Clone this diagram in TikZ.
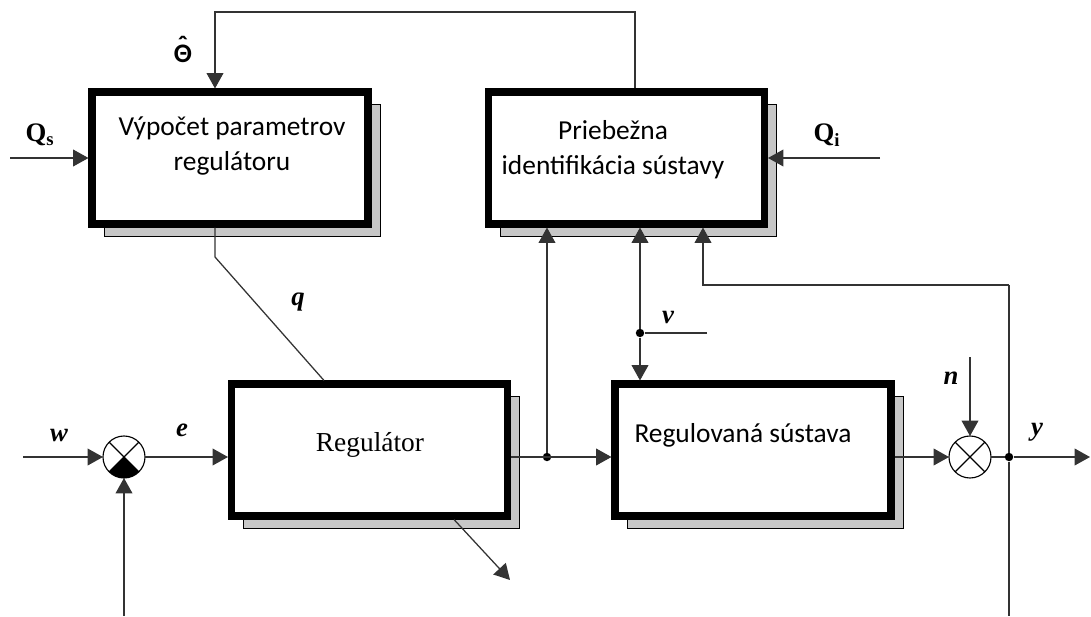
\documentclass[tikz,border=0pt]{standalone}
\usepackage{fontspec}
\setmainfont{Liberation Serif}
\newfontfamily\blokfont{Carlito}
\usetikzlibrary{arrows.meta,shadows}

\tikzset{
	blok/.style={draw, line width=5pt, fill=white, minimum width=6.9cm, minimum height=3.3cm,
		drop shadow={shadow xshift=0.31cm, shadow yshift=-0.31cm, opacity=1,
			fill=black!22, draw=black, line width=0.8pt}},
	bloktext/.style={font=\blokfont\fontsize{19.5}{25}\selectfont, align=center},
	signal/.style={draw=black!80, line width=0.9pt},
	sig/.style={signal, -{Triangle[length=11pt,width=12pt]}},
	sucet/.style={draw, circle, line width=0.8pt, minimum size=1.05cm, inner sep=0pt, outer sep=0pt},
	bod/.style={circle, fill, inner sep=0pt, minimum size=6pt},
	oznacenie/.style={font=\fontsize{19}{22}\selectfont\bfseries\itshape},
	velicina/.style={font=\fontsize{19}{22}\selectfont\bfseries},
}

\begin{document}
\begin{tikzpicture}

	\useasboundingbox (0,0) rectangle (27.275,15.4);

	% bloky
	\node[blok] (vypocet) at (5.75,11.45) {};
	\node[blok] (ident) at (15.6625,11.45) {};
	\node[blok] (regulator) at (9.2375,4.15) {};
	\node[blok] (sustava) at (18.825,4.15) {};

	\node[bloktext] (vypocetText) at (5.8,11.76) {Výpočet parametrov\\regulátoru};
	\node[bloktext] (identText) at (15.325,11.65) {Priebežna\\identifikácia sústavy};
	\node[font=\fontsize{19.5}{24}\selectfont] (regulatorText) at (9.25,4.275) {Regulátor};
	\node[bloktext] (sustavaText) at (18.575,4.525) {Regulovaná sústava};

	% sucty
	\node[sucet] (sumA) at (3.1,3.975) {};
	\draw[line width=0.8pt] (sumA.north west) -- (sumA.south east);
	\draw[line width=0.8pt] (sumA.north east) -- (sumA.south west);
	\fill (sumA.center) -- (sumA.south west) arc[start angle=225, end angle=315, radius=0.525cm] -- cycle;
	\node[sucet] (sumB) at (24.25,3.975) {};
	\draw[line width=0.8pt] (sumB.north west) -- (sumB.south east);
	\draw[line width=0.8pt] (sumB.north east) -- (sumB.south west);

	% body
	\node[bod] (bodA) at (13.675,3.975) {};
	\node[bod] (bodV) at (16.0,7.075) {};
	\node[bod] (bodY) at (25.225,3.975) {};

	\coordinate (wZac) at (0.575,3.975);
	\coordinate (qsZac) at (0.25,11.45);
	\coordinate (qiZac) at (22.0,11.45);
	\coordinate (thetaOut) at ([xshift=0.21cm]ident.north);
	\coordinate (thetaIn) at ([xshift=-0.375cm]vypocet.north);
	\coordinate (qZlom) at (5.375,8.975);
	\coordinate (qIn) at ([xshift=-1.1375cm]regulator.north);
	\coordinate (uOut) at ([xshift=2.1125cm]regulator.south);
	\coordinate (uKon) at (12.75,0.9);
	\coordinate (vZac) at (17.675,7.075);
	\coordinate (nZac) at (24.25,6.475);
	\coordinate (yKon) at (27.25,3.975);
	\coordinate (spatZlom) at (25.225,8.275);
	\coordinate (spatIn) at ([xshift=1.9125cm]ident.south);
	\coordinate (spodL) at (3.1,0);
	\coordinate (spodP) at (25.225,0);

	% spojenia
	\draw[sig] (thetaOut) -- (thetaOut |- 0,15.1) -- (thetaIn |- 0,15.1) -- (thetaIn);
	\draw[sig] (qsZac) -- (vypocet.west);
	\draw[sig] (qiZac) -- (ident.east);
	\draw[signal] (vypocet.south -| qZlom) -- (qZlom) -- (qIn);
	\draw[sig] (uOut) -- (uKon);

	\draw[sig] (wZac) -- (sumA.west);
	\draw[sig] (sumA.east) -- (sumA -| regulator.west);
	\draw[sig] (sumA -| regulator.east) -- (sumA -| sustava.west);
	\draw[sig] (bodA) -- (bodA |- ident.south);
	\draw[signal] (vZac) -- (bodV);
	\draw[sig] (bodV) -- (bodV |- ident.south);
	\draw[sig] (bodV) -- (bodV |- sustava.north);
	\draw[sig] (sumB -| sustava.east) -- (sumB.west);
	\draw[sig] (nZac) -- (sumB.north);
	\draw[signal] (sumB.east) -- (bodY);
	\draw[sig] (bodY) -- (yKon);
	\draw[signal] (bodY) -- (spatZlom);
	\draw[sig] (spatZlom) -| (spatIn);
	\draw[signal] (bodY) -- (spodP);
	\draw[sig] (spodL) -- (sumA.south);

	% oznacenia
	\node[font=\blokfont\fontsize{19}{22}\selectfont\bfseries] (theta) at (4.575,14.05)
		{\ooalign{Θ\cr\hidewidth\raisebox{0.3em}{ˆ}\hidewidth\cr}};
	\node[velicina] (qs) at (1.0,12.025) {Q\textsubscript{s}};
	\node[velicina] (qi) at (20.675,12.025) {Q\textsubscript{i}};
	\node[oznacenie] (q) at (7.45,7.85) {q};
	\node[oznacenie] (w) at (1.475,4.525) {w};
	\node[oznacenie] (e) at (4.55,4.65) {e};
	\node[oznacenie] (v) at (16.7,7.475) {v};
	\node[oznacenie] (n) at (23.775,5.95) {n};
	\node[oznacenie] (y) at (25.925,4.6) {y};

\end{tikzpicture}
\end{document}
